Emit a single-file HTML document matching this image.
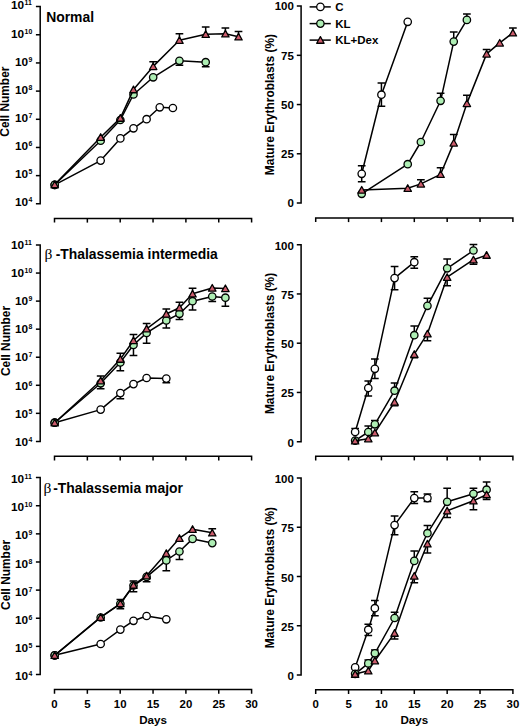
<!DOCTYPE html>
<html><head><meta charset="utf-8"><style>
html,body{margin:0;padding:0;background:#fff;width:520px;height:727px;overflow:hidden}
svg text{fill:#000}
</style></head><body>
<svg width="520" height="727" viewBox="0 0 520 727" font-family="'Liberation Sans', sans-serif" style="display:block">
<rect width="520" height="727" fill="#fff"/>
<path d="M35.90 6.60H40.20V203.80H35.90" fill="none" stroke="#000" stroke-width="1.5"/>
<path d="M35.90 34.77H40.20" stroke="#000" stroke-width="1.5"/>
<path d="M35.90 62.94H40.20" stroke="#000" stroke-width="1.5"/>
<path d="M35.90 91.11H40.20" stroke="#000" stroke-width="1.5"/>
<path d="M35.90 119.29H40.20" stroke="#000" stroke-width="1.5"/>
<path d="M35.90 147.46H40.20" stroke="#000" stroke-width="1.5"/>
<path d="M35.90 175.63H40.20" stroke="#000" stroke-width="1.5"/>
<text x="24.17" y="9" text-anchor="end" font-size="11.8" font-weight="bold">10</text>
<text x="24.62" y="4.50" font-size="6.9" font-weight="bold" >11</text>
<text x="24.17" y="38" text-anchor="end" font-size="11.8" font-weight="bold">10</text>
<text x="24.62" y="33.50" font-size="6.9" font-weight="bold" >10</text>
<text x="28.01" y="66" text-anchor="end" font-size="11.8" font-weight="bold">10</text>
<text x="28.46" y="61.50" font-size="6.9" font-weight="bold" >9</text>
<text x="28.01" y="94" text-anchor="end" font-size="11.8" font-weight="bold">10</text>
<text x="28.46" y="89.50" font-size="6.9" font-weight="bold" >8</text>
<text x="28.01" y="122" text-anchor="end" font-size="11.8" font-weight="bold">10</text>
<text x="28.46" y="117.50" font-size="6.9" font-weight="bold" >7</text>
<text x="28.01" y="150" text-anchor="end" font-size="11.8" font-weight="bold">10</text>
<text x="28.46" y="145.50" font-size="6.9" font-weight="bold" >6</text>
<text x="28.01" y="178" text-anchor="end" font-size="11.8" font-weight="bold">10</text>
<text x="28.46" y="173.50" font-size="6.9" font-weight="bold" >5</text>
<text x="28.01" y="206" text-anchor="end" font-size="11.8" font-weight="bold">10</text>
<text x="28.46" y="201.50" font-size="6.9" font-weight="bold" >4</text>
<path d="M54.50 222.60V218.40H251.60V222.60" fill="none" stroke="#000" stroke-width="1.5"/>
<path d="M87.35 218.40V222.60" stroke="#000" stroke-width="1.5"/>
<path d="M120.20 218.40V222.60" stroke="#000" stroke-width="1.5"/>
<path d="M153.05 218.40V222.60" stroke="#000" stroke-width="1.5"/>
<path d="M185.90 218.40V222.60" stroke="#000" stroke-width="1.5"/>
<path d="M218.75 218.40V222.60" stroke="#000" stroke-width="1.5"/>
<text transform="translate(8.7 101.65) rotate(-90)" text-anchor="middle" font-size="11.9" font-weight="bold">Cell Number</text>
<path d="M296.80 6.10H301.10V203.00H296.80" fill="none" stroke="#000" stroke-width="1.5"/>
<path d="M296.80 55.33H301.10" stroke="#000" stroke-width="1.5"/>
<path d="M296.80 104.55H301.10" stroke="#000" stroke-width="1.5"/>
<path d="M296.80 153.78H301.10" stroke="#000" stroke-width="1.5"/>
<text x="293.90" y="10.30" text-anchor="end" font-size="11.5" font-weight="bold">100</text>
<text x="293.90" y="59.53" text-anchor="end" font-size="11.5" font-weight="bold">75</text>
<text x="293.90" y="108.75" text-anchor="end" font-size="11.5" font-weight="bold">50</text>
<text x="293.90" y="157.97" text-anchor="end" font-size="11.5" font-weight="bold">25</text>
<text x="293.90" y="207.20" text-anchor="end" font-size="11.5" font-weight="bold">0</text>
<text transform="translate(273.8 104.55) rotate(-90)" text-anchor="middle" font-size="11.95" font-weight="bold">Mature Erythroblasts (%)</text>
<path d="M315.70 222.10V217.90H512.90V222.10" fill="none" stroke="#000" stroke-width="1.5"/>
<path d="M348.57 217.90V222.10" stroke="#000" stroke-width="1.5"/>
<path d="M381.43 217.90V222.10" stroke="#000" stroke-width="1.5"/>
<path d="M414.30 217.90V222.10" stroke="#000" stroke-width="1.5"/>
<path d="M447.17 217.90V222.10" stroke="#000" stroke-width="1.5"/>
<path d="M480.03 217.90V222.10" stroke="#000" stroke-width="1.5"/>
<path d="M35.90 245.00H40.20V441.40H35.90" fill="none" stroke="#000" stroke-width="1.5"/>
<path d="M35.90 273.06H40.20" stroke="#000" stroke-width="1.5"/>
<path d="M35.90 301.11H40.20" stroke="#000" stroke-width="1.5"/>
<path d="M35.90 329.17H40.20" stroke="#000" stroke-width="1.5"/>
<path d="M35.90 357.23H40.20" stroke="#000" stroke-width="1.5"/>
<path d="M35.90 385.29H40.20" stroke="#000" stroke-width="1.5"/>
<path d="M35.90 413.34H40.20" stroke="#000" stroke-width="1.5"/>
<text x="24.17" y="249" text-anchor="end" font-size="11.8" font-weight="bold">10</text>
<text x="24.62" y="244.50" font-size="6.9" font-weight="bold" >11</text>
<text x="24.17" y="277" text-anchor="end" font-size="11.8" font-weight="bold">10</text>
<text x="24.62" y="272.50" font-size="6.9" font-weight="bold" >10</text>
<text x="28.01" y="305" text-anchor="end" font-size="11.8" font-weight="bold">10</text>
<text x="28.46" y="300.50" font-size="6.9" font-weight="bold" >9</text>
<text x="28.01" y="333" text-anchor="end" font-size="11.8" font-weight="bold">10</text>
<text x="28.46" y="328.50" font-size="6.9" font-weight="bold" >8</text>
<text x="28.01" y="361" text-anchor="end" font-size="11.8" font-weight="bold">10</text>
<text x="28.46" y="356.50" font-size="6.9" font-weight="bold" >7</text>
<text x="28.01" y="390" text-anchor="end" font-size="11.8" font-weight="bold">10</text>
<text x="28.46" y="385.50" font-size="6.9" font-weight="bold" >6</text>
<text x="28.01" y="418" text-anchor="end" font-size="11.8" font-weight="bold">10</text>
<text x="28.46" y="413.50" font-size="6.9" font-weight="bold" >5</text>
<text x="28.01" y="446" text-anchor="end" font-size="11.8" font-weight="bold">10</text>
<text x="28.46" y="441.50" font-size="6.9" font-weight="bold" >4</text>
<path d="M54.50 460.50V456.30H251.60V460.50" fill="none" stroke="#000" stroke-width="1.5"/>
<path d="M87.35 456.30V460.50" stroke="#000" stroke-width="1.5"/>
<path d="M120.20 456.30V460.50" stroke="#000" stroke-width="1.5"/>
<path d="M153.05 456.30V460.50" stroke="#000" stroke-width="1.5"/>
<path d="M185.90 456.30V460.50" stroke="#000" stroke-width="1.5"/>
<path d="M218.75 456.30V460.50" stroke="#000" stroke-width="1.5"/>
<text transform="translate(9.6 341.00) rotate(-90)" text-anchor="middle" font-size="11.9" font-weight="bold">Cell Number</text>
<path d="M296.80 244.70H301.10V441.70H296.80" fill="none" stroke="#000" stroke-width="1.5"/>
<path d="M296.80 293.95H301.10" stroke="#000" stroke-width="1.5"/>
<path d="M296.80 343.20H301.10" stroke="#000" stroke-width="1.5"/>
<path d="M296.80 392.45H301.10" stroke="#000" stroke-width="1.5"/>
<text x="293.90" y="249.70" text-anchor="end" font-size="11.5" font-weight="bold">100</text>
<text x="293.90" y="298.95" text-anchor="end" font-size="11.5" font-weight="bold">75</text>
<text x="293.90" y="348.20" text-anchor="end" font-size="11.5" font-weight="bold">50</text>
<text x="293.90" y="397.45" text-anchor="end" font-size="11.5" font-weight="bold">25</text>
<text x="293.90" y="446.70" text-anchor="end" font-size="11.5" font-weight="bold">0</text>
<text transform="translate(273.8 343.45) rotate(-90)" text-anchor="middle" font-size="11.95" font-weight="bold">Mature Erythroblasts (%)</text>
<path d="M315.70 460.40V456.20H512.90V460.40" fill="none" stroke="#000" stroke-width="1.5"/>
<path d="M348.57 456.20V460.40" stroke="#000" stroke-width="1.5"/>
<path d="M381.43 456.20V460.40" stroke="#000" stroke-width="1.5"/>
<path d="M414.30 456.20V460.40" stroke="#000" stroke-width="1.5"/>
<path d="M447.17 456.20V460.40" stroke="#000" stroke-width="1.5"/>
<path d="M480.03 456.20V460.40" stroke="#000" stroke-width="1.5"/>
<path d="M35.90 477.60H40.20V674.50H35.90" fill="none" stroke="#000" stroke-width="1.5"/>
<path d="M35.90 505.73H40.20" stroke="#000" stroke-width="1.5"/>
<path d="M35.90 533.86H40.20" stroke="#000" stroke-width="1.5"/>
<path d="M35.90 561.99H40.20" stroke="#000" stroke-width="1.5"/>
<path d="M35.90 590.11H40.20" stroke="#000" stroke-width="1.5"/>
<path d="M35.90 618.24H40.20" stroke="#000" stroke-width="1.5"/>
<path d="M35.90 646.37H40.20" stroke="#000" stroke-width="1.5"/>
<text x="24.17" y="483" text-anchor="end" font-size="11.8" font-weight="bold">10</text>
<text x="24.62" y="478.50" font-size="6.9" font-weight="bold" >11</text>
<text x="24.17" y="511" text-anchor="end" font-size="11.8" font-weight="bold">10</text>
<text x="24.62" y="506.50" font-size="6.9" font-weight="bold" >10</text>
<text x="28.01" y="539" text-anchor="end" font-size="11.8" font-weight="bold">10</text>
<text x="28.46" y="534.50" font-size="6.9" font-weight="bold" >9</text>
<text x="28.01" y="568" text-anchor="end" font-size="11.8" font-weight="bold">10</text>
<text x="28.46" y="563.50" font-size="6.9" font-weight="bold" >8</text>
<text x="28.01" y="596" text-anchor="end" font-size="11.8" font-weight="bold">10</text>
<text x="28.46" y="591.50" font-size="6.9" font-weight="bold" >7</text>
<text x="28.01" y="624" text-anchor="end" font-size="11.8" font-weight="bold">10</text>
<text x="28.46" y="619.50" font-size="6.9" font-weight="bold" >6</text>
<text x="28.01" y="652" text-anchor="end" font-size="11.8" font-weight="bold">10</text>
<text x="28.46" y="647.50" font-size="6.9" font-weight="bold" >5</text>
<text x="28.01" y="680" text-anchor="end" font-size="11.8" font-weight="bold">10</text>
<text x="28.46" y="675.50" font-size="6.9" font-weight="bold" >4</text>
<path d="M54.50 693.80V689.60H251.60V693.80" fill="none" stroke="#000" stroke-width="1.5"/>
<path d="M87.35 689.60V693.80" stroke="#000" stroke-width="1.5"/>
<path d="M120.20 689.60V693.80" stroke="#000" stroke-width="1.5"/>
<path d="M153.05 689.60V693.80" stroke="#000" stroke-width="1.5"/>
<path d="M185.90 689.60V693.80" stroke="#000" stroke-width="1.5"/>
<path d="M218.75 689.60V693.80" stroke="#000" stroke-width="1.5"/>
<text x="54.50" y="707.80" text-anchor="middle" font-size="11.4" font-weight="bold">0</text>
<text x="87.35" y="707.80" text-anchor="middle" font-size="11.4" font-weight="bold">5</text>
<text x="120.20" y="707.80" text-anchor="middle" font-size="11.4" font-weight="bold">10</text>
<text x="153.05" y="707.80" text-anchor="middle" font-size="11.4" font-weight="bold">15</text>
<text x="185.90" y="707.80" text-anchor="middle" font-size="11.4" font-weight="bold">20</text>
<text x="218.75" y="707.80" text-anchor="middle" font-size="11.4" font-weight="bold">25</text>
<text x="251.60" y="707.80" text-anchor="middle" font-size="11.4" font-weight="bold">30</text>
<text x="153.05" y="723.60" text-anchor="middle" font-size="11.6" font-weight="bold">Days</text>
<text transform="translate(9.6 574.90) rotate(-90)" text-anchor="middle" font-size="11.9" font-weight="bold">Cell Number</text>
<path d="M296.80 478.00H301.10V675.00H296.80" fill="none" stroke="#000" stroke-width="1.5"/>
<path d="M296.80 527.25H301.10" stroke="#000" stroke-width="1.5"/>
<path d="M296.80 576.50H301.10" stroke="#000" stroke-width="1.5"/>
<path d="M296.80 625.75H301.10" stroke="#000" stroke-width="1.5"/>
<text x="293.90" y="483.00" text-anchor="end" font-size="11.5" font-weight="bold">100</text>
<text x="293.90" y="532.25" text-anchor="end" font-size="11.5" font-weight="bold">75</text>
<text x="293.90" y="581.50" text-anchor="end" font-size="11.5" font-weight="bold">50</text>
<text x="293.90" y="630.75" text-anchor="end" font-size="11.5" font-weight="bold">25</text>
<text x="293.90" y="680.00" text-anchor="end" font-size="11.5" font-weight="bold">0</text>
<text transform="translate(273.8 577.60) rotate(-90)" text-anchor="middle" font-size="11.95" font-weight="bold">Mature Erythroblasts (%)</text>
<path d="M315.70 694.00V689.80H512.90V694.00" fill="none" stroke="#000" stroke-width="1.5"/>
<path d="M348.57 689.80V694.00" stroke="#000" stroke-width="1.5"/>
<path d="M381.43 689.80V694.00" stroke="#000" stroke-width="1.5"/>
<path d="M414.30 689.80V694.00" stroke="#000" stroke-width="1.5"/>
<path d="M447.17 689.80V694.00" stroke="#000" stroke-width="1.5"/>
<path d="M480.03 689.80V694.00" stroke="#000" stroke-width="1.5"/>
<text x="315.70" y="708.00" text-anchor="middle" font-size="11.4" font-weight="bold">0</text>
<text x="348.57" y="708.00" text-anchor="middle" font-size="11.4" font-weight="bold">5</text>
<text x="381.43" y="708.00" text-anchor="middle" font-size="11.4" font-weight="bold">10</text>
<text x="414.30" y="708.00" text-anchor="middle" font-size="11.4" font-weight="bold">15</text>
<text x="447.17" y="708.00" text-anchor="middle" font-size="11.4" font-weight="bold">20</text>
<text x="480.03" y="708.00" text-anchor="middle" font-size="11.4" font-weight="bold">25</text>
<text x="512.90" y="708.00" text-anchor="middle" font-size="11.4" font-weight="bold">30</text>
<text x="414.30" y="723.80" text-anchor="middle" font-size="11.6" font-weight="bold">Days</text>
<text x="46.20" y="21.70" font-size="13.9" font-weight="bold">Normal</text>
<text x="44.60" y="259.40" font-size="15.5" font-family="'Liberation Serif', serif">β</text>
<text x="55.70" y="259.40" font-size="13.9" font-weight="bold">-Thalassemia intermedia</text>
<text x="43.60" y="493.00" font-size="15.5" font-family="'Liberation Serif', serif">β</text>
<text x="53.20" y="493.00" font-size="13.9" font-weight="bold">-Thalassemia major</text>
<path d="M54.70 184.80L100.66 160.60L120.35 138.40L133.48 128.30L146.61 119.20L159.74 107.30L172.87 108.00" fill="none" stroke="#000" stroke-width="1.5" stroke-linejoin="round"/>
<circle cx="54.70" cy="184.80" r="3.7" fill="#fff" stroke="#000" stroke-width="1.3"/>
<circle cx="100.66" cy="160.60" r="3.7" fill="#fff" stroke="#000" stroke-width="1.3"/>
<circle cx="120.35" cy="138.40" r="3.7" fill="#fff" stroke="#000" stroke-width="1.3"/>
<circle cx="133.48" cy="128.30" r="3.7" fill="#fff" stroke="#000" stroke-width="1.3"/>
<circle cx="146.61" cy="119.20" r="3.7" fill="#fff" stroke="#000" stroke-width="1.3"/>
<circle cx="159.74" cy="107.30" r="3.7" fill="#fff" stroke="#000" stroke-width="1.3"/>
<circle cx="172.87" cy="108.00" r="3.7" fill="#fff" stroke="#000" stroke-width="1.3"/>
<path d="M54.70 184.80L100.66 140.70L120.35 120.00L133.48 94.50L153.18 77.30L179.44 60.80L205.69 62.20" fill="none" stroke="#000" stroke-width="1.5" stroke-linejoin="round"/>
<path d="M179.44 60.80V65.20M175.59 65.20H183.28" stroke="#000" stroke-width="1.5"/>
<path d="M205.69 62.20V66.80M201.84 66.80H209.54" stroke="#000" stroke-width="1.5"/>
<circle cx="54.70" cy="184.80" r="3.7" fill="#aeeeb4" stroke="#000" stroke-width="1.3"/>
<circle cx="100.66" cy="140.70" r="3.7" fill="#aeeeb4" stroke="#000" stroke-width="1.3"/>
<circle cx="120.35" cy="120.00" r="3.7" fill="#aeeeb4" stroke="#000" stroke-width="1.3"/>
<circle cx="133.48" cy="94.50" r="3.7" fill="#aeeeb4" stroke="#000" stroke-width="1.3"/>
<circle cx="153.18" cy="77.30" r="3.7" fill="#aeeeb4" stroke="#000" stroke-width="1.3"/>
<circle cx="179.44" cy="60.80" r="3.7" fill="#aeeeb4" stroke="#000" stroke-width="1.3"/>
<circle cx="205.69" cy="62.20" r="3.7" fill="#aeeeb4" stroke="#000" stroke-width="1.3"/>
<path d="M54.70 184.60L100.66 137.20L120.35 118.10L133.48 89.60L153.18 66.40L179.44 40.20L205.69 34.20L225.39 33.80L238.52 36.80" fill="none" stroke="#000" stroke-width="1.5" stroke-linejoin="round"/>
<path d="M153.18 66.40V61.70M149.33 61.70H157.03" stroke="#000" stroke-width="1.5"/>
<path d="M179.44 40.20V33.80M175.59 33.80H183.28" stroke="#000" stroke-width="1.5"/>
<path d="M205.69 34.20V27.00M201.84 27.00H209.54" stroke="#000" stroke-width="1.5"/>
<path d="M225.39 33.80V28.10M221.54 28.10H229.24" stroke="#000" stroke-width="1.5"/>
<path d="M238.52 36.80V31.60M234.67 31.60H242.37" stroke="#000" stroke-width="1.5"/>
<path d="M54.70 181.15L58.40 187.75H51.00Z" fill="#cc5c6c" stroke="#000" stroke-width="1.3" stroke-linejoin="round"/>
<path d="M100.66 133.75L104.36 140.35H96.95Z" fill="#cc5c6c" stroke="#000" stroke-width="1.3" stroke-linejoin="round"/>
<path d="M120.35 114.65L124.05 121.25H116.65Z" fill="#cc5c6c" stroke="#000" stroke-width="1.3" stroke-linejoin="round"/>
<path d="M133.48 86.15L137.18 92.75H129.78Z" fill="#cc5c6c" stroke="#000" stroke-width="1.3" stroke-linejoin="round"/>
<path d="M153.18 62.95L156.88 69.55H149.48Z" fill="#cc5c6c" stroke="#000" stroke-width="1.3" stroke-linejoin="round"/>
<path d="M179.44 36.75L183.13 43.35H175.74Z" fill="#cc5c6c" stroke="#000" stroke-width="1.3" stroke-linejoin="round"/>
<path d="M205.69 30.75L209.39 37.35H202.00Z" fill="#cc5c6c" stroke="#000" stroke-width="1.3" stroke-linejoin="round"/>
<path d="M225.39 30.35L229.09 36.95H221.69Z" fill="#cc5c6c" stroke="#000" stroke-width="1.3" stroke-linejoin="round"/>
<path d="M238.52 33.35L242.22 39.95H234.82Z" fill="#cc5c6c" stroke="#000" stroke-width="1.3" stroke-linejoin="round"/>
<path d="M361.71 173.80L381.43 94.70L407.72 21.80" fill="none" stroke="#000" stroke-width="1.5" stroke-linejoin="round"/>
<path d="M361.71 173.80V165.70M357.86 165.70H365.56" stroke="#000" stroke-width="1.5"/>
<path d="M361.71 173.80V181.80M357.86 181.80H365.56" stroke="#000" stroke-width="1.5"/>
<path d="M381.43 94.70V82.90M377.58 82.90H385.28" stroke="#000" stroke-width="1.5"/>
<path d="M381.43 94.70V106.30M377.58 106.30H385.28" stroke="#000" stroke-width="1.5"/>
<circle cx="361.71" cy="173.80" r="3.7" fill="#fff" stroke="#000" stroke-width="1.3"/>
<circle cx="381.43" cy="94.70" r="3.7" fill="#fff" stroke="#000" stroke-width="1.3"/>
<circle cx="407.72" cy="21.80" r="3.7" fill="#fff" stroke="#000" stroke-width="1.3"/>
<path d="M361.71 193.80L407.72 164.20L420.87 142.00L440.59 100.80L453.73 41.60L466.88 19.90" fill="none" stroke="#000" stroke-width="1.5" stroke-linejoin="round"/>
<path d="M440.59 100.80V93.20M436.74 93.20H444.44" stroke="#000" stroke-width="1.5"/>
<path d="M453.73 41.60V32.00M449.88 32.00H457.58" stroke="#000" stroke-width="1.5"/>
<path d="M466.88 19.90V14.10M463.03 14.10H470.73" stroke="#000" stroke-width="1.5"/>
<circle cx="361.71" cy="193.80" r="3.7" fill="#aeeeb4" stroke="#000" stroke-width="1.3"/>
<circle cx="407.72" cy="164.20" r="3.7" fill="#aeeeb4" stroke="#000" stroke-width="1.3"/>
<circle cx="420.87" cy="142.00" r="3.7" fill="#aeeeb4" stroke="#000" stroke-width="1.3"/>
<circle cx="440.59" cy="100.80" r="3.7" fill="#aeeeb4" stroke="#000" stroke-width="1.3"/>
<circle cx="453.73" cy="41.60" r="3.7" fill="#aeeeb4" stroke="#000" stroke-width="1.3"/>
<circle cx="466.88" cy="19.90" r="3.7" fill="#aeeeb4" stroke="#000" stroke-width="1.3"/>
<path d="M361.71 190.00L407.72 188.20L420.87 183.90L440.59 174.30L453.73 142.90L466.88 103.40L486.60 53.90L499.74 42.90L512.89 32.80" fill="none" stroke="#000" stroke-width="1.5" stroke-linejoin="round"/>
<path d="M420.87 183.90V179.80M417.02 179.80H424.72" stroke="#000" stroke-width="1.5"/>
<path d="M440.59 174.30V167.70M436.74 167.70H444.44" stroke="#000" stroke-width="1.5"/>
<path d="M453.73 142.90V134.40M449.88 134.40H457.58" stroke="#000" stroke-width="1.5"/>
<path d="M466.88 103.40V95.30M463.03 95.30H470.73" stroke="#000" stroke-width="1.5"/>
<path d="M486.60 53.90V49.40M482.75 49.40H490.45" stroke="#000" stroke-width="1.5"/>
<path d="M512.89 32.80V28.00M509.04 28.00H516.74" stroke="#000" stroke-width="1.5"/>
<path d="M361.71 186.55L365.41 193.15H358.01Z" fill="#cc5c6c" stroke="#000" stroke-width="1.3" stroke-linejoin="round"/>
<path d="M407.72 184.75L411.42 191.35H404.02Z" fill="#cc5c6c" stroke="#000" stroke-width="1.3" stroke-linejoin="round"/>
<path d="M420.87 180.45L424.57 187.05H417.17Z" fill="#cc5c6c" stroke="#000" stroke-width="1.3" stroke-linejoin="round"/>
<path d="M440.59 170.85L444.29 177.45H436.89Z" fill="#cc5c6c" stroke="#000" stroke-width="1.3" stroke-linejoin="round"/>
<path d="M453.73 139.45L457.43 146.05H450.03Z" fill="#cc5c6c" stroke="#000" stroke-width="1.3" stroke-linejoin="round"/>
<path d="M466.88 99.95L470.58 106.55H463.18Z" fill="#cc5c6c" stroke="#000" stroke-width="1.3" stroke-linejoin="round"/>
<path d="M486.60 50.45L490.30 57.05H482.90Z" fill="#cc5c6c" stroke="#000" stroke-width="1.3" stroke-linejoin="round"/>
<path d="M499.74 39.45L503.44 46.05H496.04Z" fill="#cc5c6c" stroke="#000" stroke-width="1.3" stroke-linejoin="round"/>
<path d="M512.89 29.35L516.59 35.95H509.19Z" fill="#cc5c6c" stroke="#000" stroke-width="1.3" stroke-linejoin="round"/>
<path d="M54.70 422.70L100.66 409.60L120.35 393.10L133.48 384.10L146.61 378.00L166.31 378.60" fill="none" stroke="#000" stroke-width="1.5" stroke-linejoin="round"/>
<path d="M120.35 393.10V398.80M116.50 398.80H124.20" stroke="#000" stroke-width="1.5"/>
<path d="M166.31 378.60V382.80M162.46 382.80H170.16" stroke="#000" stroke-width="1.5"/>
<circle cx="54.70" cy="422.70" r="3.7" fill="#fff" stroke="#000" stroke-width="1.3"/>
<circle cx="100.66" cy="409.60" r="3.7" fill="#fff" stroke="#000" stroke-width="1.3"/>
<circle cx="120.35" cy="393.10" r="3.7" fill="#fff" stroke="#000" stroke-width="1.3"/>
<circle cx="133.48" cy="384.10" r="3.7" fill="#fff" stroke="#000" stroke-width="1.3"/>
<circle cx="146.61" cy="378.00" r="3.7" fill="#fff" stroke="#000" stroke-width="1.3"/>
<circle cx="166.31" cy="378.60" r="3.7" fill="#fff" stroke="#000" stroke-width="1.3"/>
<path d="M54.70 422.70L100.66 383.30L120.35 362.40L133.48 345.00L146.61 332.90L166.31 320.50L179.44 313.80L192.56 301.20L212.26 296.50L225.39 297.70" fill="none" stroke="#000" stroke-width="1.5" stroke-linejoin="round"/>
<path d="M100.66 383.30V388.80M96.81 388.80H104.50" stroke="#000" stroke-width="1.5"/>
<path d="M120.35 362.40V370.70M116.50 370.70H124.20" stroke="#000" stroke-width="1.5"/>
<path d="M133.48 345.00V355.60M129.63 355.60H137.33" stroke="#000" stroke-width="1.5"/>
<path d="M146.61 332.90V343.20M142.76 343.20H150.46" stroke="#000" stroke-width="1.5"/>
<path d="M166.31 320.50V328.10M162.46 328.10H170.16" stroke="#000" stroke-width="1.5"/>
<path d="M179.44 313.80V319.50M175.59 319.50H183.28" stroke="#000" stroke-width="1.5"/>
<path d="M192.56 301.20V310.00M188.72 310.00H196.41" stroke="#000" stroke-width="1.5"/>
<path d="M212.26 296.50V301.50M208.41 301.50H216.11" stroke="#000" stroke-width="1.5"/>
<path d="M225.39 297.70V306.20M221.54 306.20H229.24" stroke="#000" stroke-width="1.5"/>
<circle cx="54.70" cy="422.70" r="3.7" fill="#aeeeb4" stroke="#000" stroke-width="1.3"/>
<circle cx="100.66" cy="383.30" r="3.7" fill="#aeeeb4" stroke="#000" stroke-width="1.3"/>
<circle cx="120.35" cy="362.40" r="3.7" fill="#aeeeb4" stroke="#000" stroke-width="1.3"/>
<circle cx="133.48" cy="345.00" r="3.7" fill="#aeeeb4" stroke="#000" stroke-width="1.3"/>
<circle cx="146.61" cy="332.90" r="3.7" fill="#aeeeb4" stroke="#000" stroke-width="1.3"/>
<circle cx="166.31" cy="320.50" r="3.7" fill="#aeeeb4" stroke="#000" stroke-width="1.3"/>
<circle cx="179.44" cy="313.80" r="3.7" fill="#aeeeb4" stroke="#000" stroke-width="1.3"/>
<circle cx="192.56" cy="301.20" r="3.7" fill="#aeeeb4" stroke="#000" stroke-width="1.3"/>
<circle cx="212.26" cy="296.50" r="3.7" fill="#aeeeb4" stroke="#000" stroke-width="1.3"/>
<circle cx="225.39" cy="297.70" r="3.7" fill="#aeeeb4" stroke="#000" stroke-width="1.3"/>
<path d="M54.70 422.70L100.66 380.70L120.35 359.10L133.48 340.50L146.61 328.80L166.31 314.00L179.44 307.70L192.56 293.80L212.26 288.00L225.39 288.50" fill="none" stroke="#000" stroke-width="1.5" stroke-linejoin="round"/>
<path d="M100.66 380.70V376.00M96.81 376.00H104.50" stroke="#000" stroke-width="1.5"/>
<path d="M120.35 359.10V353.30M116.50 353.30H124.20" stroke="#000" stroke-width="1.5"/>
<path d="M133.48 340.50V334.40M129.63 334.40H137.33" stroke="#000" stroke-width="1.5"/>
<path d="M146.61 328.80V323.40M142.76 323.40H150.46" stroke="#000" stroke-width="1.5"/>
<path d="M166.31 314.00V309.00M162.46 309.00H170.16" stroke="#000" stroke-width="1.5"/>
<path d="M179.44 307.70V302.30M175.59 302.30H183.28" stroke="#000" stroke-width="1.5"/>
<path d="M192.56 293.80V288.20M188.72 288.20H196.41" stroke="#000" stroke-width="1.5"/>
<path d="M54.70 419.25L58.40 425.85H51.00Z" fill="#cc5c6c" stroke="#000" stroke-width="1.3" stroke-linejoin="round"/>
<path d="M100.66 377.25L104.36 383.85H96.95Z" fill="#cc5c6c" stroke="#000" stroke-width="1.3" stroke-linejoin="round"/>
<path d="M120.35 355.65L124.05 362.25H116.65Z" fill="#cc5c6c" stroke="#000" stroke-width="1.3" stroke-linejoin="round"/>
<path d="M133.48 337.05L137.18 343.65H129.78Z" fill="#cc5c6c" stroke="#000" stroke-width="1.3" stroke-linejoin="round"/>
<path d="M146.61 325.35L150.31 331.95H142.91Z" fill="#cc5c6c" stroke="#000" stroke-width="1.3" stroke-linejoin="round"/>
<path d="M166.31 310.55L170.00 317.15H162.61Z" fill="#cc5c6c" stroke="#000" stroke-width="1.3" stroke-linejoin="round"/>
<path d="M179.44 304.25L183.13 310.85H175.74Z" fill="#cc5c6c" stroke="#000" stroke-width="1.3" stroke-linejoin="round"/>
<path d="M192.56 290.35L196.26 296.95H188.87Z" fill="#cc5c6c" stroke="#000" stroke-width="1.3" stroke-linejoin="round"/>
<path d="M212.26 284.55L215.96 291.15H208.56Z" fill="#cc5c6c" stroke="#000" stroke-width="1.3" stroke-linejoin="round"/>
<path d="M225.39 285.05L229.09 291.65H221.69Z" fill="#cc5c6c" stroke="#000" stroke-width="1.3" stroke-linejoin="round"/>
<path d="M355.14 432.00L368.28 388.00L374.86 368.80L394.58 278.10L414.29 262.20" fill="none" stroke="#000" stroke-width="1.5" stroke-linejoin="round"/>
<path d="M355.14 432.00V428.40M351.29 428.40H358.99" stroke="#000" stroke-width="1.5"/>
<path d="M368.28 388.00V380.90M364.43 380.90H372.13" stroke="#000" stroke-width="1.5"/>
<path d="M368.28 388.00V396.10M364.43 396.10H372.13" stroke="#000" stroke-width="1.5"/>
<path d="M374.86 368.80V378.60M371.01 378.60H378.71" stroke="#000" stroke-width="1.5"/>
<path d="M374.86 368.80V359.00M371.01 359.00H378.71" stroke="#000" stroke-width="1.5"/>
<path d="M394.58 278.10V266.40M390.73 266.40H398.43" stroke="#000" stroke-width="1.5"/>
<path d="M394.58 278.10V289.80M390.73 289.80H398.43" stroke="#000" stroke-width="1.5"/>
<path d="M414.29 262.20V256.80M410.44 256.80H418.14" stroke="#000" stroke-width="1.5"/>
<path d="M414.29 262.20V268.20M410.44 268.20H418.14" stroke="#000" stroke-width="1.5"/>
<circle cx="355.14" cy="432.00" r="3.7" fill="#fff" stroke="#000" stroke-width="1.3"/>
<circle cx="368.28" cy="388.00" r="3.7" fill="#fff" stroke="#000" stroke-width="1.3"/>
<circle cx="374.86" cy="368.80" r="3.7" fill="#fff" stroke="#000" stroke-width="1.3"/>
<circle cx="394.58" cy="278.10" r="3.7" fill="#fff" stroke="#000" stroke-width="1.3"/>
<circle cx="414.29" cy="262.20" r="3.7" fill="#fff" stroke="#000" stroke-width="1.3"/>
<path d="M355.14 440.60L368.28 432.00L374.86 424.30L394.58 390.70L414.29 335.20L427.44 305.80L447.16 268.30L473.45 250.50" fill="none" stroke="#000" stroke-width="1.5" stroke-linejoin="round"/>
<path d="M368.28 432.00V426.00M364.43 426.00H372.13" stroke="#000" stroke-width="1.5"/>
<path d="M374.86 424.30V420.60M371.01 420.60H378.71" stroke="#000" stroke-width="1.5"/>
<path d="M394.58 390.70V382.90M390.73 382.90H398.43" stroke="#000" stroke-width="1.5"/>
<path d="M414.29 335.20V325.90M410.44 325.90H418.14" stroke="#000" stroke-width="1.5"/>
<path d="M427.44 305.80V298.20M423.59 298.20H431.29" stroke="#000" stroke-width="1.5"/>
<path d="M447.16 268.30V259.00M443.31 259.00H451.01" stroke="#000" stroke-width="1.5"/>
<path d="M473.45 250.50V244.60M469.60 244.60H477.30" stroke="#000" stroke-width="1.5"/>
<circle cx="355.14" cy="440.60" r="3.7" fill="#aeeeb4" stroke="#000" stroke-width="1.3"/>
<circle cx="368.28" cy="432.00" r="3.7" fill="#aeeeb4" stroke="#000" stroke-width="1.3"/>
<circle cx="374.86" cy="424.30" r="3.7" fill="#aeeeb4" stroke="#000" stroke-width="1.3"/>
<circle cx="394.58" cy="390.70" r="3.7" fill="#aeeeb4" stroke="#000" stroke-width="1.3"/>
<circle cx="414.29" cy="335.20" r="3.7" fill="#aeeeb4" stroke="#000" stroke-width="1.3"/>
<circle cx="427.44" cy="305.80" r="3.7" fill="#aeeeb4" stroke="#000" stroke-width="1.3"/>
<circle cx="447.16" cy="268.30" r="3.7" fill="#aeeeb4" stroke="#000" stroke-width="1.3"/>
<circle cx="473.45" cy="250.50" r="3.7" fill="#aeeeb4" stroke="#000" stroke-width="1.3"/>
<path d="M355.14 440.80L368.28 438.70L374.86 432.70L394.58 402.00L414.29 354.20L427.44 333.70L447.16 277.20L473.45 259.70L486.60 255.10" fill="none" stroke="#000" stroke-width="1.5" stroke-linejoin="round"/>
<path d="M394.58 402.00V405.80M390.73 405.80H398.43" stroke="#000" stroke-width="1.5"/>
<path d="M414.29 354.20V357.80M410.44 357.80H418.14" stroke="#000" stroke-width="1.5"/>
<path d="M427.44 333.70V340.70M423.59 340.70H431.29" stroke="#000" stroke-width="1.5"/>
<path d="M447.16 277.20V285.80M443.31 285.80H451.01" stroke="#000" stroke-width="1.5"/>
<path d="M473.45 259.70V264.30M469.60 264.30H477.30" stroke="#000" stroke-width="1.5"/>
<path d="M355.14 437.35L358.84 443.95H351.44Z" fill="#cc5c6c" stroke="#000" stroke-width="1.3" stroke-linejoin="round"/>
<path d="M368.28 435.25L371.98 441.85H364.58Z" fill="#cc5c6c" stroke="#000" stroke-width="1.3" stroke-linejoin="round"/>
<path d="M374.86 429.25L378.56 435.85H371.16Z" fill="#cc5c6c" stroke="#000" stroke-width="1.3" stroke-linejoin="round"/>
<path d="M394.58 398.55L398.28 405.15H390.88Z" fill="#cc5c6c" stroke="#000" stroke-width="1.3" stroke-linejoin="round"/>
<path d="M414.29 350.75L417.99 357.35H410.59Z" fill="#cc5c6c" stroke="#000" stroke-width="1.3" stroke-linejoin="round"/>
<path d="M427.44 330.25L431.14 336.85H423.74Z" fill="#cc5c6c" stroke="#000" stroke-width="1.3" stroke-linejoin="round"/>
<path d="M447.16 273.75L450.86 280.35H443.46Z" fill="#cc5c6c" stroke="#000" stroke-width="1.3" stroke-linejoin="round"/>
<path d="M473.45 256.25L477.15 262.85H469.75Z" fill="#cc5c6c" stroke="#000" stroke-width="1.3" stroke-linejoin="round"/>
<path d="M486.60 251.65L490.30 258.25H482.90Z" fill="#cc5c6c" stroke="#000" stroke-width="1.3" stroke-linejoin="round"/>
<path d="M54.70 655.30L100.66 644.00L120.35 629.60L133.48 620.80L146.61 616.00L166.31 619.30" fill="none" stroke="#000" stroke-width="1.5" stroke-linejoin="round"/>
<circle cx="54.70" cy="655.30" r="3.7" fill="#fff" stroke="#000" stroke-width="1.3"/>
<circle cx="100.66" cy="644.00" r="3.7" fill="#fff" stroke="#000" stroke-width="1.3"/>
<circle cx="120.35" cy="629.60" r="3.7" fill="#fff" stroke="#000" stroke-width="1.3"/>
<circle cx="133.48" cy="620.80" r="3.7" fill="#fff" stroke="#000" stroke-width="1.3"/>
<circle cx="146.61" cy="616.00" r="3.7" fill="#fff" stroke="#000" stroke-width="1.3"/>
<circle cx="166.31" cy="619.30" r="3.7" fill="#fff" stroke="#000" stroke-width="1.3"/>
<path d="M54.70 655.30L100.66 617.50L120.35 603.80L133.48 585.50L146.61 576.90L166.31 560.40L179.44 551.50L192.56 538.90L212.26 543.10" fill="none" stroke="#000" stroke-width="1.5" stroke-linejoin="round"/>
<path d="M120.35 603.80V608.70M116.50 608.70H124.20" stroke="#000" stroke-width="1.5"/>
<path d="M133.48 585.50V591.70M129.63 591.70H137.33" stroke="#000" stroke-width="1.5"/>
<path d="M146.61 576.90V581.80M142.76 581.80H150.46" stroke="#000" stroke-width="1.5"/>
<path d="M166.31 560.40V570.80M162.46 570.80H170.16" stroke="#000" stroke-width="1.5"/>
<path d="M179.44 551.50V559.50M175.59 559.50H183.28" stroke="#000" stroke-width="1.5"/>
<circle cx="54.70" cy="655.30" r="3.7" fill="#aeeeb4" stroke="#000" stroke-width="1.3"/>
<circle cx="100.66" cy="617.50" r="3.7" fill="#aeeeb4" stroke="#000" stroke-width="1.3"/>
<circle cx="120.35" cy="603.80" r="3.7" fill="#aeeeb4" stroke="#000" stroke-width="1.3"/>
<circle cx="133.48" cy="585.50" r="3.7" fill="#aeeeb4" stroke="#000" stroke-width="1.3"/>
<circle cx="146.61" cy="576.90" r="3.7" fill="#aeeeb4" stroke="#000" stroke-width="1.3"/>
<circle cx="166.31" cy="560.40" r="3.7" fill="#aeeeb4" stroke="#000" stroke-width="1.3"/>
<circle cx="179.44" cy="551.50" r="3.7" fill="#aeeeb4" stroke="#000" stroke-width="1.3"/>
<circle cx="192.56" cy="538.90" r="3.7" fill="#aeeeb4" stroke="#000" stroke-width="1.3"/>
<circle cx="212.26" cy="543.10" r="3.7" fill="#aeeeb4" stroke="#000" stroke-width="1.3"/>
<path d="M54.70 655.30L100.66 617.20L120.35 603.50L133.48 585.10L146.61 575.70L166.31 553.30L179.44 538.20L192.56 529.20L212.26 532.80" fill="none" stroke="#000" stroke-width="1.5" stroke-linejoin="round"/>
<path d="M120.35 603.50V599.50M116.50 599.50H124.20" stroke="#000" stroke-width="1.5"/>
<path d="M133.48 585.10V581.00M129.63 581.00H137.33" stroke="#000" stroke-width="1.5"/>
<path d="M212.26 532.80V528.80M208.41 528.80H216.11" stroke="#000" stroke-width="1.5"/>
<path d="M54.70 651.85L58.40 658.45H51.00Z" fill="#cc5c6c" stroke="#000" stroke-width="1.3" stroke-linejoin="round"/>
<path d="M100.66 613.75L104.36 620.35H96.95Z" fill="#cc5c6c" stroke="#000" stroke-width="1.3" stroke-linejoin="round"/>
<path d="M120.35 600.05L124.05 606.65H116.65Z" fill="#cc5c6c" stroke="#000" stroke-width="1.3" stroke-linejoin="round"/>
<path d="M133.48 581.65L137.18 588.25H129.78Z" fill="#cc5c6c" stroke="#000" stroke-width="1.3" stroke-linejoin="round"/>
<path d="M146.61 572.25L150.31 578.85H142.91Z" fill="#cc5c6c" stroke="#000" stroke-width="1.3" stroke-linejoin="round"/>
<path d="M166.31 549.85L170.00 556.45H162.61Z" fill="#cc5c6c" stroke="#000" stroke-width="1.3" stroke-linejoin="round"/>
<path d="M179.44 534.75L183.13 541.35H175.74Z" fill="#cc5c6c" stroke="#000" stroke-width="1.3" stroke-linejoin="round"/>
<path d="M192.56 525.75L196.26 532.35H188.87Z" fill="#cc5c6c" stroke="#000" stroke-width="1.3" stroke-linejoin="round"/>
<path d="M212.26 529.35L215.96 535.95H208.56Z" fill="#cc5c6c" stroke="#000" stroke-width="1.3" stroke-linejoin="round"/>
<path d="M355.14 667.40L368.28 629.70L374.86 608.20L394.58 525.10L414.29 498.10L427.44 498.10" fill="none" stroke="#000" stroke-width="1.5" stroke-linejoin="round"/>
<path d="M368.28 629.70V624.30M364.43 624.30H372.13" stroke="#000" stroke-width="1.5"/>
<path d="M368.28 629.70V635.50M364.43 635.50H372.13" stroke="#000" stroke-width="1.5"/>
<path d="M374.86 608.20V600.50M371.01 600.50H378.71" stroke="#000" stroke-width="1.5"/>
<path d="M374.86 608.20V615.80M371.01 615.80H378.71" stroke="#000" stroke-width="1.5"/>
<path d="M394.58 525.10V516.00M390.73 516.00H398.43" stroke="#000" stroke-width="1.5"/>
<path d="M394.58 525.10V534.70M390.73 534.70H398.43" stroke="#000" stroke-width="1.5"/>
<path d="M414.29 498.10V491.80M410.44 491.80H418.14" stroke="#000" stroke-width="1.5"/>
<path d="M414.29 498.10V503.40M410.44 503.40H418.14" stroke="#000" stroke-width="1.5"/>
<path d="M427.44 498.10V493.90M423.59 493.90H431.29" stroke="#000" stroke-width="1.5"/>
<path d="M427.44 498.10V501.50M423.59 501.50H431.29" stroke="#000" stroke-width="1.5"/>
<circle cx="355.14" cy="667.40" r="3.7" fill="#fff" stroke="#000" stroke-width="1.3"/>
<circle cx="368.28" cy="629.70" r="3.7" fill="#fff" stroke="#000" stroke-width="1.3"/>
<circle cx="374.86" cy="608.20" r="3.7" fill="#fff" stroke="#000" stroke-width="1.3"/>
<circle cx="394.58" cy="525.10" r="3.7" fill="#fff" stroke="#000" stroke-width="1.3"/>
<circle cx="414.29" cy="498.10" r="3.7" fill="#fff" stroke="#000" stroke-width="1.3"/>
<circle cx="427.44" cy="498.10" r="3.7" fill="#fff" stroke="#000" stroke-width="1.3"/>
<path d="M355.14 673.80L368.28 663.40L374.86 653.30L394.58 618.00L414.29 560.90L427.44 533.20L447.16 501.80L473.45 493.80L486.60 489.70" fill="none" stroke="#000" stroke-width="1.5" stroke-linejoin="round"/>
<path d="M368.28 663.40V660.00M364.43 660.00H372.13" stroke="#000" stroke-width="1.5"/>
<path d="M374.86 653.30V649.90M371.01 649.90H378.71" stroke="#000" stroke-width="1.5"/>
<path d="M394.58 618.00V612.20M390.73 612.20H398.43" stroke="#000" stroke-width="1.5"/>
<path d="M414.29 560.90V551.10M410.44 551.10H418.14" stroke="#000" stroke-width="1.5"/>
<path d="M427.44 533.20V525.40M423.59 525.40H431.29" stroke="#000" stroke-width="1.5"/>
<path d="M447.16 501.80V488.20M443.31 488.20H451.01" stroke="#000" stroke-width="1.5"/>
<path d="M473.45 493.80V488.20M469.60 488.20H477.30" stroke="#000" stroke-width="1.5"/>
<path d="M486.60 489.70V482.00M482.75 482.00H490.45" stroke="#000" stroke-width="1.5"/>
<circle cx="355.14" cy="673.80" r="3.7" fill="#aeeeb4" stroke="#000" stroke-width="1.3"/>
<circle cx="368.28" cy="663.40" r="3.7" fill="#aeeeb4" stroke="#000" stroke-width="1.3"/>
<circle cx="374.86" cy="653.30" r="3.7" fill="#aeeeb4" stroke="#000" stroke-width="1.3"/>
<circle cx="394.58" cy="618.00" r="3.7" fill="#aeeeb4" stroke="#000" stroke-width="1.3"/>
<circle cx="414.29" cy="560.90" r="3.7" fill="#aeeeb4" stroke="#000" stroke-width="1.3"/>
<circle cx="427.44" cy="533.20" r="3.7" fill="#aeeeb4" stroke="#000" stroke-width="1.3"/>
<circle cx="447.16" cy="501.80" r="3.7" fill="#aeeeb4" stroke="#000" stroke-width="1.3"/>
<circle cx="473.45" cy="493.80" r="3.7" fill="#aeeeb4" stroke="#000" stroke-width="1.3"/>
<circle cx="486.60" cy="489.70" r="3.7" fill="#aeeeb4" stroke="#000" stroke-width="1.3"/>
<path d="M355.14 674.10L368.28 670.80L374.86 660.70L394.58 633.10L414.29 576.00L427.44 543.80L447.16 510.80L473.45 500.80L486.60 494.60" fill="none" stroke="#000" stroke-width="1.5" stroke-linejoin="round"/>
<path d="M394.58 633.10V639.10M390.73 639.10H398.43" stroke="#000" stroke-width="1.5"/>
<path d="M414.29 576.00V582.80M410.44 582.80H418.14" stroke="#000" stroke-width="1.5"/>
<path d="M427.44 543.80V553.00M423.59 553.00H431.29" stroke="#000" stroke-width="1.5"/>
<path d="M447.16 510.80V517.40M443.31 517.40H451.01" stroke="#000" stroke-width="1.5"/>
<path d="M473.45 500.80V509.70M469.60 509.70H477.30" stroke="#000" stroke-width="1.5"/>
<path d="M486.60 494.60V499.50M482.75 499.50H490.45" stroke="#000" stroke-width="1.5"/>
<path d="M355.14 670.65L358.84 677.25H351.44Z" fill="#cc5c6c" stroke="#000" stroke-width="1.3" stroke-linejoin="round"/>
<path d="M368.28 667.35L371.98 673.95H364.58Z" fill="#cc5c6c" stroke="#000" stroke-width="1.3" stroke-linejoin="round"/>
<path d="M374.86 657.25L378.56 663.85H371.16Z" fill="#cc5c6c" stroke="#000" stroke-width="1.3" stroke-linejoin="round"/>
<path d="M394.58 629.65L398.28 636.25H390.88Z" fill="#cc5c6c" stroke="#000" stroke-width="1.3" stroke-linejoin="round"/>
<path d="M414.29 572.55L417.99 579.15H410.59Z" fill="#cc5c6c" stroke="#000" stroke-width="1.3" stroke-linejoin="round"/>
<path d="M427.44 540.35L431.14 546.95H423.74Z" fill="#cc5c6c" stroke="#000" stroke-width="1.3" stroke-linejoin="round"/>
<path d="M447.16 507.35L450.86 513.95H443.46Z" fill="#cc5c6c" stroke="#000" stroke-width="1.3" stroke-linejoin="round"/>
<path d="M473.45 497.35L477.15 503.95H469.75Z" fill="#cc5c6c" stroke="#000" stroke-width="1.3" stroke-linejoin="round"/>
<path d="M486.60 491.15L490.30 497.75H482.90Z" fill="#cc5c6c" stroke="#000" stroke-width="1.3" stroke-linejoin="round"/>
<path d="M309.6 6.90H330.8" stroke="#000" stroke-width="1.5"/>
<circle cx="320.40" cy="6.90" r="3.7" fill="#fff" stroke="#000" stroke-width="1.3"/>
<text x="335.2" y="11.00" font-size="11.5" font-weight="bold">C</text>
<path d="M309.6 23.60H330.8" stroke="#000" stroke-width="1.5"/>
<circle cx="320.40" cy="23.60" r="3.7" fill="#aeeeb4" stroke="#000" stroke-width="1.3"/>
<text x="335.2" y="27.70" font-size="11.5" font-weight="bold">KL</text>
<path d="M309.6 40.10H330.8" stroke="#000" stroke-width="1.5"/>
<path d="M320.40 36.65L324.10 43.25H316.70Z" fill="#cc5c6c" stroke="#000" stroke-width="1.3" stroke-linejoin="round"/>
<text x="335.2" y="44.20" font-size="11.5" font-weight="bold">KL+Dex</text>
</svg>
</body></html>
